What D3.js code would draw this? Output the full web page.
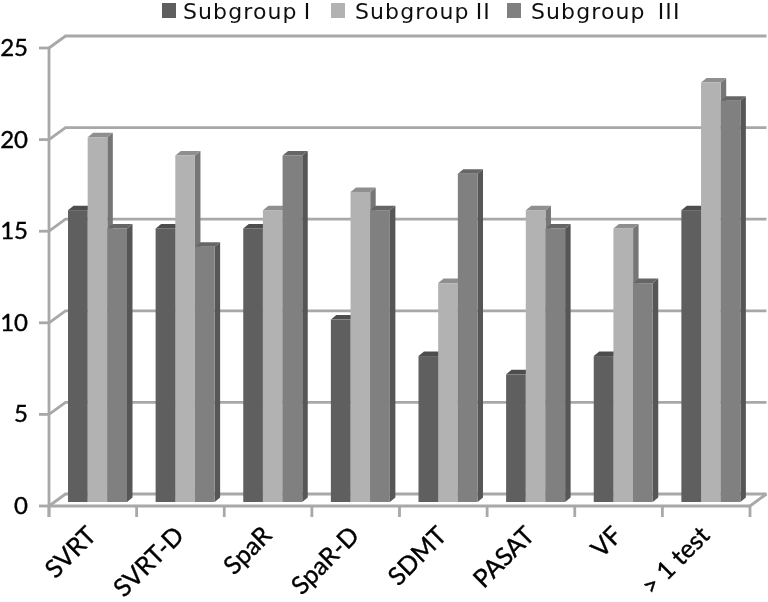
<!DOCTYPE html>
<html><head><meta charset="utf-8">
<script src="https://cdnjs.cloudflare.com/ajax/libs/d3/7.8.5/d3.min.js"></script>
<style>html,body{margin:0;padding:0;background:#fff}svg{display:block}</style></head>
<body><div id="c"></div>
<script>
const categories = ["SVRT","SVRT-D","SpaR","SpaR-D","SDMT","PASAT","VF","> 1 test"];
const seriesNames = ["Subgroup I","Subgroup II","Subgroup  III"];
const subgroup1 = [16,15,15,10,8,7,8,16];
const subgroup2 = [20,19,16,17,12,16,15,23];
const subgroup3 = [15,14,19,16,18,15,12,22];
const yTicks = [0,5,10,15,20,25];
const series = [subgroup1,subgroup2,subgroup3];
const faceColors = ["#5f5f5f","#b2b2b2","#808080"];
const sideColors = ["#484848","#767676","#565656"];
const topColors = ["#4e4e4e","#8f8f8f","#666666"];

const W=768,H=602;
const svg=d3.select("#c").append("svg").attr("width",W).attr("height",H);
const defs=svg.append("defs");
defs.append("filter").attr("id","soft").attr("x","-2%").attr("y","-2%").attr("width","104%").attr("height","104%")
  .append("feGaussianBlur").attr("stdDeviation",0.7);
const root=svg.append("g").attr("filter","url(#soft)");

const x=d3.scaleBand().domain(categories).range([49,750]);
const y=d3.scaleLinear().domain([0,25]).range([506,48]);
const yBar=d3.scaleLinear().domain([0,25]).range([502,46]);
const inner=d3.scaleBand().domain(d3.range(3)).range([19,78]);
const dx=16.5,dy=12,bdx=5.5,bdy=4.5;
const gridC="#a8a8a8";

const grid=root.append("g").attr("fill","none").attr("stroke",gridC).attr("stroke-width",2.8);
yTicks.forEach(t=>{
  grid.append("path").attr("d",d3.line()([[49,y(t)],[49+dx,y(t)-dy],[750+dx,y(t)-dy]]));
  grid.append("line").attr("x1",39).attr("x2",49).attr("y1",y(t)).attr("y2",y(t));
});
grid.append("line").attr("x1",49).attr("x2",49).attr("y1",y(25)).attr("y2",517);
grid.append("line").attr("x1",49).attr("x2",750).attr("y1",y(0)).attr("y2",y(0));
grid.append("line").attr("x1",750).attr("x2",750+dx).attr("y1",y(0)).attr("y2",y(0)-dy);
x.domain().concat(["end"]).forEach((c,i)=>{
  const px=49+i*x.bandwidth();
  grid.append("line").attr("x1",px).attr("x2",px).attr("y1",y(0)).attr("y2",517);
});

categories.forEach((c,i)=>{
  const g=root.append("g");
  series.forEach((s,k)=>{
    const x0=x(c)+inner(k), w=inner.bandwidth(), top=yBar(s[i]), bot=yBar(0);
    g.append("path").attr("fill",sideColors[k])
      .attr("d",d3.line()([[x0+w,top],[x0+w+bdx,top-bdy],[x0+w+bdx,bot-bdy],[x0+w,bot]])+"Z");
    g.append("path").attr("fill",topColors[k])
      .attr("d",d3.line()([[x0,top],[x0+bdx,top-bdy],[x0+w+bdx,top-bdy],[x0+w,top]])+"Z");
    g.append("rect").attr("x",x0).attr("y",top).attr("width",w).attr("height",bot-top).attr("fill",faceColors[k]);
  });
});

const font="Lato,'Open Sans',sans-serif";
root.append("g").selectAll("text").data(yTicks).join("text")
  .attr("x",28).attr("y",d=>y(d)+8).attr("text-anchor","end")
  .attr("font-family",font).attr("font-size",24).attr("fill","#000").attr("stroke","#000").attr("stroke-width",0.4).text(d=>d);

root.append("g").selectAll("text").data(categories).join("text")
  .attr("text-anchor","end")
  .attr("transform",d=>`translate(${x(d)+x.bandwidth()/2+5},${537}) rotate(-45)`)
  .attr("font-family",font).attr("font-size",25).attr("fill","#000").attr("stroke","#000").attr("stroke-width",0.4).text(d=>d);

const legendSq=[162,331,507], legendTx=[183,355,531];
seriesNames.forEach((n,k)=>{
  root.append("rect").attr("x",legendSq[k]).attr("y",3).attr("width",14).attr("height",15).attr("fill",faceColors[k]);
  root.append("text").attr("x",legendTx[k]).attr("y",19).style("white-space","pre")
    .attr("font-family","'DejaVu Sans',sans-serif").attr("font-size",22).attr("letter-spacing",1.1).attr("word-spacing",-2)
    .attr("fill","#111").text(n);
});
</script></body></html>
